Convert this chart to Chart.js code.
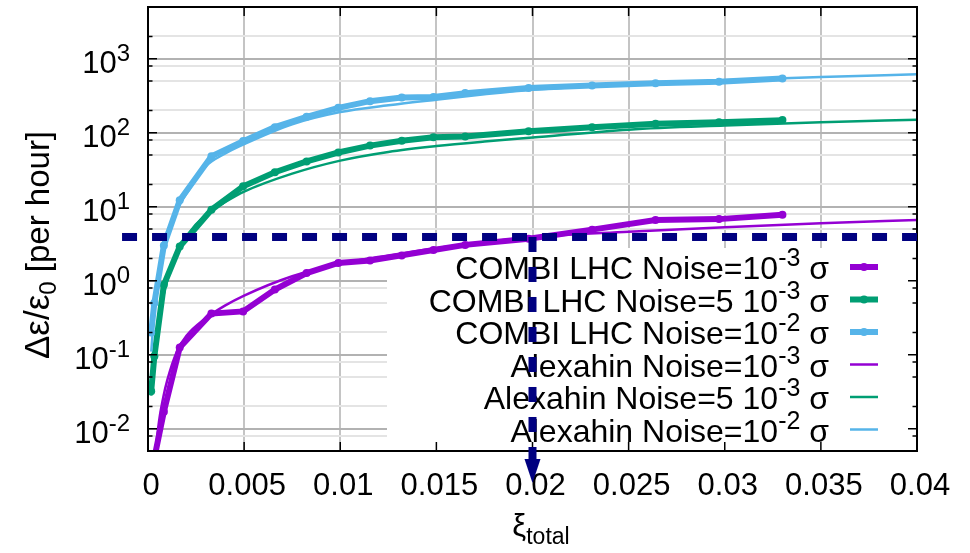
<!DOCTYPE html>
<html>
<head>
<meta charset="utf-8">
<script src="https://cdn.jsdelivr.net/npm/chart.js@4.4.1/dist/chart.umd.min.js"></script>
<style>
  html, body { margin: 0; padding: 0; background: #fff; }
  #wrap { width: 970px; height: 553px; }
</style>
</head>
<body>
<div id="wrap"><canvas id="chart" width="970" height="553"></canvas></div>
<script>
// COMBI LHC runs (thick lines with points)
const xiCombi = [0.000165, 0.00033, 0.000825, 0.00165, 0.0033, 0.00495, 0.0066, 0.00825, 0.0099,
    0.01155, 0.0132, 0.01485, 0.0165, 0.0198, 0.0231, 0.0264, 0.0297, 0.033];
const combiNoise1e3 = [0.0012, 0.004, 0.017, 0.125, 0.36, 0.385, 0.76, 1.27, 1.74,
    1.88, 2.2, 2.6, 3.05, 3.7, 4.9, 6.6, 6.8, 7.8];
const combiNoise5e3 = [0.032, 0.095, 0.88, 2.9, 9.1, 18.9, 29.2, 41, 54,
    67, 78, 87, 89, 105, 119, 132, 138, 148];
const combiNoise1e2 = [0.2, 0.5, 3.0, 12.2, 48, 77, 119, 164, 217,
    267, 300, 305, 343, 403, 434, 465, 490, 540];

// Alexahin estimate (thin smooth lines)
const xiAlexahin = [0.00017, 0.0002, 0.0003, 0.0004, 0.0006, 0.0008, 0.001, 0.0015, 0.002,
    0.003, 0.004, 0.005, 0.0075, 0.01, 0.0125, 0.015, 0.0175, 0.02, 0.025, 0.03, 0.035, 0.04];
const alexahinNoise1e3 = [0.0012, 0.002, 0.0035, 0.0055, 0.014, 0.027, 0.045, 0.11, 0.18,
    0.31, 0.46, 0.63, 1.15, 1.7, 2.2, 2.75, 3.3, 3.9, 4.6, 5.3, 6.0, 6.6];
const alexahinNoise5e3 = [0.028, 0.035, 0.08, 0.14, 0.33, 0.62, 1.0, 2.4, 4.0,
    7.8, 11.5, 16, 28, 42, 55, 66, 76, 86, 110, 125, 138, 150];
const alexahinNoise1e2 = [0.11, 0.14, 0.32, 0.56, 1.3, 2.4, 3.8, 9, 15,
    35, 52, 70, 130, 190, 235, 280, 330, 380, 450, 510, 565, 615];

// axes
const xTickValues = [0, 0.005, 0.01, 0.015, 0.02, 0.025, 0.03, 0.035, 0.04];
const xTickLabels = ["0", "0.005", "0.01", "0.015", "0.02", "0.025", "0.03", "0.035", "0.04"];
const yDecadeExponents = [-2, -1, 0, 1, 2, 3];
const yMinorMultipliers = [2, 5, 8];

// legend
const legendMain = ["COMBI LHC Noise=10", "COMBI LHC Noise=5 10", "COMBI LHC Noise=10",
    "Alexahin Noise=10", "Alexahin Noise=5 10", "Alexahin Noise=10"];
const legendExp = ["-3", "-3", "-2", "-3", "-3", "-2"];

// annotation: threshold growth at xi = 0.02
const thresholdGrowth = 3.9;
const thresholdXi = 0.02;
const thresholdLineFromXi = -0.00135;

const FONT = '"Liberation Sans", Arial, Helvetica, sans-serif';
const PURPLE = "#9400d3";
const GREEN = "#009e73";
const BLUE = "#56b4e9";
const NAVY = "#000080";
const legendColors = [PURPLE, GREEN, BLUE, PURPLE, GREEN, BLUE];

const isDecade = function (v) {
    const l = Math.log10(v);
    return Math.abs(l - Math.round(l)) < 1e-6;
};

const yTickValues = [];
for (let e = -3; e <= 3; e++) {
    [1].concat(yMinorMultipliers).forEach(function (m) {
        const v = Number((m * Math.pow(10, e)).toPrecision(6));
        if (v >= 0.005 - 1e-9 && v <= 5000 + 1e-9) {
            yTickValues.push(v);
        }
    });
}

function points(xs, ys) {
    return xs.map((x, i) => ({ x: x, y: ys[i] }));
}

function combiDataset(label, values, color, order) {
    return {
        label: label,
        data: points(xiCombi, values),
        borderColor: color,
        backgroundColor: color,
        borderWidth: 6,
        pointRadius: 4,
        pointBorderWidth: 0,
        pointBackgroundColor: color,
        tension: 0,
        order: order,
        clip: 0,
    };
}

function alexahinDataset(label, values, color, order) {
    return {
        label: label,
        data: points(xiAlexahin, values),
        borderColor: color,
        borderWidth: 2.5,
        pointRadius: 0,
        cubicInterpolationMode: "monotone",
        order: order,
        clip: 0,
    };
}

// text with super/subscripts: parts = [{t, s, dy}]
function drawRich(ctx, parts, x, y, align) {
    let total = 0;
    const widths = parts.map(function (p) {
        ctx.font = p.s + "px " + FONT;
        const w = ctx.measureText(p.t).width;
        total += w;
        return w;
    });
    let cx = x;
    if (align === "right") {
        cx = x - total;
    } else if (align === "center") {
        cx = x - total / 2;
    }
    ctx.textAlign = "left";
    ctx.textBaseline = "alphabetic";
    parts.forEach(function (p, i) {
        ctx.font = p.s + "px " + FONT;
        ctx.fillText(p.t, cx, y + (p.dy || 0));
        cx += widths[i];
    });
}

const keyBox = { left: 387, top: 248 };

const decorations = {
    id: "decorations",
    beforeDatasetsDraw(chart) {
        // opaque key box hides the grid under it
        const { ctx, chartArea } = chart;
        ctx.save();
        ctx.fillStyle = "#ffffff";
        ctx.fillRect(keyBox.left, keyBox.top, chartArea.right - keyBox.left, chartArea.bottom - keyBox.top);
        ctx.restore();
    },
    afterDraw(chart) {
        const { ctx, chartArea } = chart;
        const xs = chart.scales.x;
        const ys = chart.scales.y;
        const { left, right, top, bottom } = chartArea;
        ctx.save();

        // frame
        ctx.strokeStyle = "#000";
        ctx.lineWidth = 2;
        ctx.strokeRect(left, top, right - left, bottom - top);

        // inward tick marks
        ctx.lineWidth = 1.5;
        ctx.beginPath();
        xTickValues.forEach(function (v) {
            const px = xs.getPixelForValue(v);
            ctx.moveTo(px, bottom); ctx.lineTo(px, bottom - 9);
            ctx.moveTo(px, top); ctx.lineTo(px, top + 9);
        });
        yTickValues.forEach(function (v) {
            const py = ys.getPixelForValue(v);
            const len = isDecade(v) ? 9 : 4.5;
            ctx.moveTo(left, py); ctx.lineTo(left + len, py);
            ctx.moveTo(right, py); ctx.lineTo(right - len, py);
        });
        ctx.stroke();

        ctx.fillStyle = "#000";
        // x tick labels
        ctx.font = "31px " + FONT;
        ctx.textAlign = "center";
        ctx.textBaseline = "alphabetic";
        xTickValues.forEach(function (v, i) {
            ctx.fillText(xTickLabels[i], xs.getPixelForValue(v) + 3, 495);
        });
        // y tick labels
        yDecadeExponents.forEach(function (e) {
            const py = ys.getPixelForValue(Math.pow(10, e));
            drawRich(ctx, [{ t: "10", s: 31 }, { t: String(e), s: 24, dy: -12 }], 130, py + 14, "right");
        });

        // axis titles
        drawRich(ctx, [{ t: "\u03be", s: 31 }, { t: "total", s: 23, dy: 8 }], 541, 536, "center");
        ctx.save();
        ctx.translate(38, 245);
        ctx.rotate(-Math.PI / 2);
        drawRich(ctx, [{ t: "\u0394\u03b5/\u03b5", s: 35 }, { t: "0", s: 24, dy: 7 }, { t: " [per hour]", s: 33 }],
            0, 11, "center");
        ctx.restore();

        // key
        legendMain.forEach(function (label, i) {
            const ly = 267 + i * 32.5;
            ctx.fillStyle = "#000";
            drawRich(ctx, [{ t: label, s: 32 }, { t: legendExp[i], s: 25, dy: -13 }, { t: " \u03c3", s: 32 }],
                829, ly + 12, "right");
            ctx.strokeStyle = legendColors[i];
            ctx.lineWidth = i < 3 ? 6 : 2.5;
            ctx.beginPath();
            ctx.moveTo(850, ly);
            ctx.lineTo(878, ly);
            ctx.stroke();
            if (i < 3) {
                ctx.fillStyle = legendColors[i];
                ctx.beginPath();
                ctx.arc(864, ly, 4, 0, 2 * Math.PI);
                ctx.fill();
            }
        });

        // dashed threshold lines with arrow
        const hy = ys.getPixelForValue(thresholdGrowth);
        const vx = xs.getPixelForValue(thresholdXi);
        const tipY = bottom + 32;
        ctx.strokeStyle = NAVY;
        ctx.fillStyle = NAVY;
        ctx.lineWidth = 8;
        ctx.lineCap = "butt";
        ctx.setLineDash([15, 15]);
        ctx.beginPath();
        ctx.moveTo(xs.getPixelForValue(thresholdLineFromXi), hy);
        ctx.lineTo(right, hy);
        ctx.stroke();
        ctx.beginPath();
        ctx.moveTo(vx, hy);
        ctx.lineTo(vx, tipY - 22);
        ctx.stroke();
        ctx.setLineDash([]);
        ctx.beginPath();
        ctx.moveTo(vx - 8, tipY - 24);
        ctx.lineTo(vx + 8, tipY - 24);
        ctx.lineTo(vx, tipY);
        ctx.closePath();
        ctx.fill();

        ctx.restore();
    },
};

const config = {
    type: "line",
    data: {
        datasets: [
            combiDataset("COMBI LHC Noise=1e-3", combiNoise1e3, PURPLE, 6),
            combiDataset("COMBI LHC Noise=5e-3", combiNoise5e3, GREEN, 5),
            combiDataset("COMBI LHC Noise=1e-2", combiNoise1e2, BLUE, 4),
            alexahinDataset("Alexahin Noise=1e-3", alexahinNoise1e3, PURPLE, 3),
            alexahinDataset("Alexahin Noise=5e-3", alexahinNoise5e3, GREEN, 2),
            alexahinDataset("Alexahin Noise=1e-2", alexahinNoise1e2, BLUE, 1),
        ],
    },
    options: {
        responsive: false,
        devicePixelRatio: 1,
        animation: false,
        events: [],
        layout: { padding: { top: 7, right: 53, bottom: 0, left: 0 } },
        plugins: { legend: { display: false }, tooltip: { enabled: false } },
        scales: {
            x: {
                type: "linear",
                min: 0,
                max: 0.04,
                ticks: { stepSize: 0.005, display: false },
                grid: { color: "#c4c4c4", lineWidth: 2, drawTicks: false },
                border: { display: false },
                afterFit: function (scale) { scale.height = 102; },
            },
            y: {
                type: "logarithmic",
                min: 0.005,
                max: 5000,
                ticks: { display: false },
                afterBuildTicks: function (scale) {
                    scale.ticks = yTickValues.map(v => ({ value: v }));
                },
                grid: {
                    color: ctx => (ctx.tick && isDecade(ctx.tick.value)) ? "#b2b2b2" : "#e4e4e4",
                    lineWidth: 2,
                    drawTicks: false,
                },
                border: { display: false },
                afterFit: function (scale) { scale.width = 148; },
            },
        },
    },
    plugins: [decorations],
};

new Chart(document.getElementById("chart").getContext("2d"), config);
</script>
</body>
</html>
